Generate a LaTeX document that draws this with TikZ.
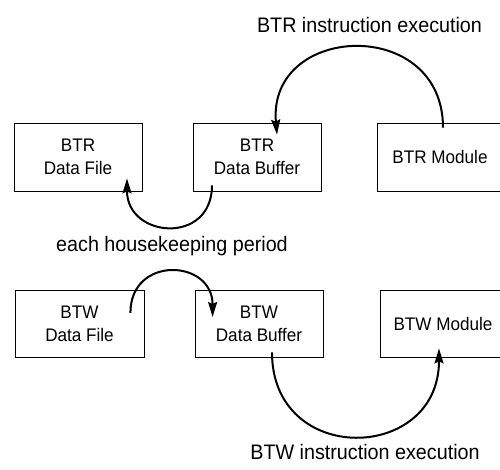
\documentclass[tikz,border=0pt]{standalone}
\usepackage{fontspec}
\setmainfont{Liberation Sans}[FakeStretch=0.94]
\usetikzlibrary{arrows.meta, positioning}

\begin{document}
\begin{tikzpicture}[x=1pt, y=1pt, >={Stealth[length=15pt, width=9pt, inset=2pt]},
  blk/.style={draw, line width=0.8pt, minimum height=68pt, align=center,
    font=\fontsize{18.2}{23}\selectfont},
  lbl/.style={anchor=base, font=\fontsize{21}{24}\selectfont},
  flow/.style={->, line width=2pt}]
  \useasboundingbox (0,0) rectangle (500,470);
  % BTR row
  \node[blk, minimum width=128pt] (rfile) at (78,313) {BTR\\Data File};
  \node[blk, minimum width=128pt] (rbuf) at (257,313) {BTR\\Data Buffer};
  \node[blk, minimum width=126pt] (rmod) at (440,313) {BTR Module};
  % BTW row
  \node[blk, minimum width=129pt, minimum height=67pt] (wfile) at (79.5,146.5) {BTW\\Data File};
  \node[blk, minimum width=128pt, minimum height=67pt] (wbuf) at (259,146.5) {BTW\\Data Buffer};
  \node[blk, minimum width=126pt, minimum height=67pt] (wmod) at (443,146.5) {BTW Module};
  % labels
  \node[lbl] (rlabel) at (369.5,437) {BTR instruction execution};
  \node[lbl] (hlabel) at (172,218) {each housekeeping period};
  \node[lbl] (wlabel) at (365,10) {BTW instruction execution};
  % transfers
  \draw[flow] ([xshift=3pt, yshift=-5pt]rmod.north) to[out=90, in=95, looseness=1.72]
    ([xshift=20pt, yshift=-12pt]rbuf.north);
  \draw[flow] ([xshift=-45pt, yshift=6pt]rbuf.south) to[out=-90, in=-90, looseness=1.8]
    ([xshift=49pt, yshift=13pt]rfile.south);
  \draw[flow] ([xshift=-14pt, yshift=10.5pt]wfile.east) to[out=90, in=90, looseness=1.8]
    ([xshift=18pt, yshift=6.5pt]wbuf.west);
  \draw[flow] ([xshift=13pt, yshift=5pt]wbuf.south) to[out=-90, in=-90, looseness=1.75]
    ([xshift=-4pt, yshift=9pt]wmod.south);
\end{tikzpicture}
\end{document}
